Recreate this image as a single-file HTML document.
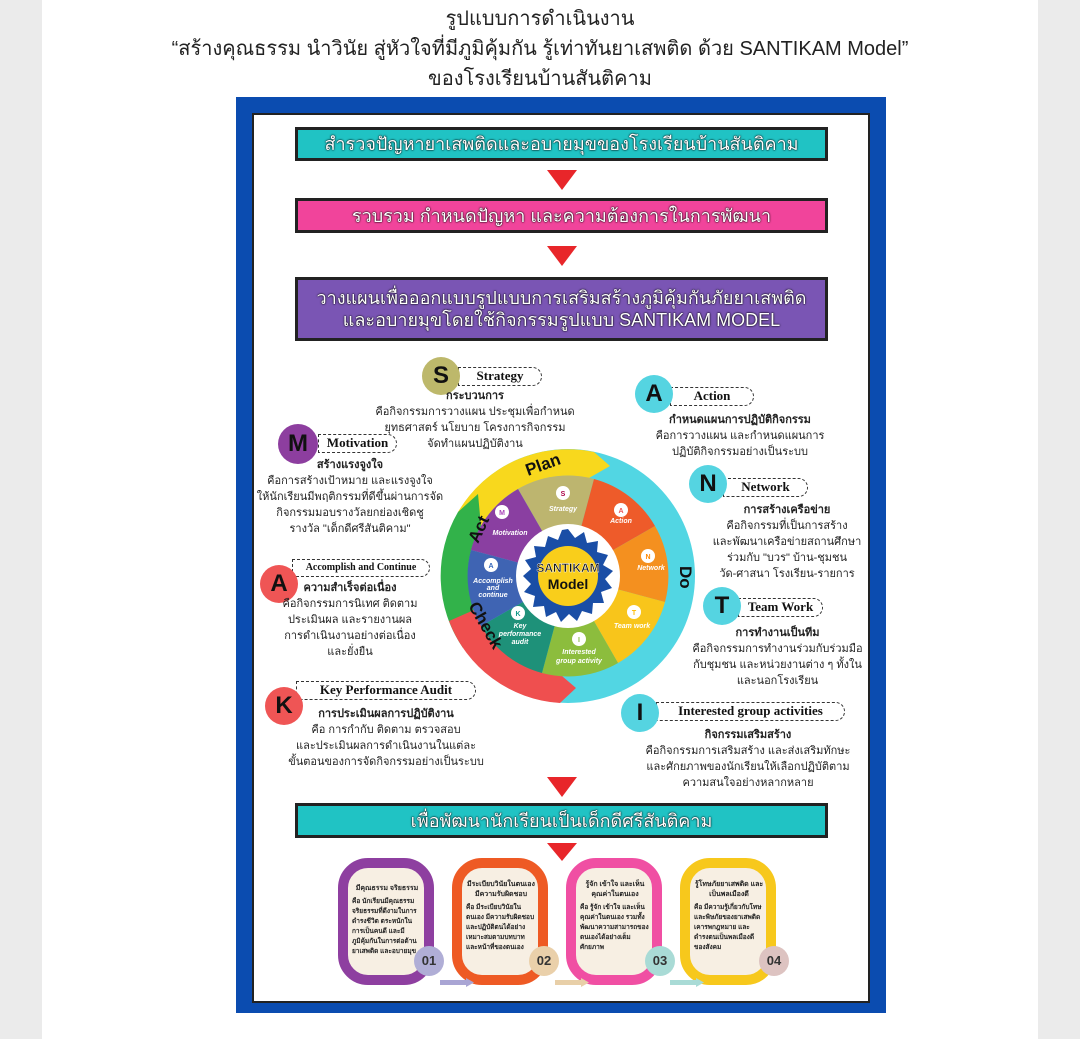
<!DOCTYPE html>
<html><head><meta charset="utf-8">
<style>
*{margin:0;padding:0;box-sizing:border-box}
body{width:1080px;height:1039px;background:#ebebeb;position:relative;overflow:hidden;font-family:"Liberation Sans","Noto Sans CJK SC",sans-serif;color:#111}
.page{position:absolute;left:42px;top:0;width:996px;height:1039px;background:#fff}
.t{position:absolute;left:0;width:1080px;text-align:center;font-size:20px;line-height:24px;color:#222}
.poster{position:absolute;left:236px;top:97px;width:650px;height:916px;background:#0b4cb0}
.inner{position:absolute;left:252px;top:113px;width:618px;height:890px;background:#fff;border:2px solid #222}
.bar{position:absolute;left:295px;width:533px;border:3px solid #222;color:#fff;font-size:18px;text-align:center;text-shadow:0 0 2px #000,0 0 1px #000;display:flex;align-items:center;justify-content:center;line-height:22px}
.chev{position:absolute;width:0;height:0;border-left:15px solid transparent;border-right:15px solid transparent;border-top:20px solid #e8262a}
.ab{position:absolute;font-size:11px;text-align:center;line-height:16px;color:#222}
.ab b{display:block;font-size:11px}
.lc{position:absolute;border-radius:50%;font-weight:bold;font-size:24px;text-align:center;color:#111;font-family:"Liberation Sans Narrow","Liberation Sans",sans-serif}
.lb{position:absolute;border:1.5px dashed #333;border-radius:0 10px 10px 0;font-family:"Liberation Serif",serif;font-weight:bold;font-size:13px;text-align:center;line-height:16px;background:#fff}
.card{position:absolute;top:858px;width:96px;height:127px;border:10px solid;border-radius:30px;background:#f7efe3;padding:12px 2px 0 4px;font-size:6.5px;line-height:10px;font-weight:bold;color:#222;overflow:hidden}
.card .h{font-size:7px;text-align:center;margin-bottom:3px}
.num{position:absolute;width:30px;height:30px;border-radius:50%;font-size:13px;font-weight:bold;text-align:center;line-height:30px;color:#333}
.ar{position:absolute;top:978px;height:9px;width:34px}
</style></head><body>
<div class="page"></div>
<div class="t" style="top:7px">รูปแบบการดำเนินงาน</div>
<div class="t" style="top:37px">“สร้างคุณธรรม นำวินัย สู่หัวใจที่มีภูมิคุ้มกัน รู้เท่าทันยาเสพติด ด้วย SANTIKAM Model”</div>
<div class="t" style="top:67px">ของโรงเรียนบ้านสันติคาม</div>
<div class="poster"></div>
<div class="inner"></div>

<div class="bar" style="top:127px;height:34px;background:#20c3c4">สำรวจปัญหายาเสพติดและอบายมุขของโรงเรียนบ้านสันติคาม</div>
<div class="chev" style="left:547px;top:170px"></div>
<div class="bar" style="top:198px;height:35px;background:#f1449b">รวบรวม กำหนดปัญหา และความต้องการในการพัฒนา</div>
<div class="chev" style="left:547px;top:246px"></div>
<div class="bar" style="top:277px;height:64px;background:#7a55b4;line-height:22px">วางแผนเพื่อออกแบบรูปแบบการเสริมสร้างภูมิคุ้มกันภัยยาเสพติด<br>และอบายมุขโดยใช้กิจกรรมรูปแบบ SANTIKAM MODEL</div>

<svg style="position:absolute;left:0;top:0" width="1080" height="1039">
<g transform="translate(568,576)">
<circle r="127" fill="#52d6e3"/>
<path d="M-110 -64 A127 127 0 0 1 26 -124 L42 -110 L21 -98 A100 100 0 0 0 -87 -50 Z" fill="#f8d81d"/>
<path d="M-105 72 A127 127 0 0 1 -110 -64 L-90 -82 L-87 -50 A100 100 0 0 0 -94 34 Z" fill="#32b24a"/>
<path d="M-8 127 A127 127 0 0 1 -119 45 L-94 34 A100 100 0 0 0 -6 100 L8 112 Z" fill="#ef4f4f"/>
<g>
<path d="M0 0 L-50 -87 A100 100 0 0 1 26 -97Z" fill="#bdb56f"/>
<path d="M0 0 L26 -97 A100 100 0 0 1 87 -50Z" fill="#ee5b2a"/>
<path d="M0 0 L87 -50 A100 100 0 0 1 97 26Z" fill="#f4901f"/>
<path d="M0 0 L97 26 A100 100 0 0 1 50 87Z" fill="#f8c51b"/>
<path d="M0 0 L50 87 A100 100 0 0 1 -26 97Z" fill="#8cbd3d"/>
<path d="M0 0 L-26 97 A100 100 0 0 1 -87 50Z" fill="#1e9179"/>
<path d="M0 0 L-87 50 A100 100 0 0 1 -97 -26Z" fill="#3f64b3"/>
<path d="M0 0 L-97 -26 A100 100 0 0 1 -50 -87Z" fill="#8a3fa1"/>
</g>
<circle r="52" fill="#fff"/>
<polygon fill="#1a4ea6" points="0,-47 7,-38 16,-44 19,-33 30,-35 29,-24 40,-21 35,-11 45,-5 37,3 44,12 33,16 36,27 25,27 24,38 14,35 9,45 1,38 -7,46 -12,36 -22,41 -24,30 -35,31 -33,20 -44,16 -37,8 -45,0 -37,-7 -43,-16 -32,-19 -34,-30 -23,-29 -20,-40 -10,-36 -6,-46"/>
<circle r="30" fill="#f9ce1b"/>
<text y="-4" text-anchor="middle" font-family="Liberation Sans" font-weight="bold" font-size="12" fill="#111" stroke="#fff" stroke-width="0.4">SANTIKAM</text>
<text y="13" text-anchor="middle" font-family="Liberation Sans" font-weight="bold" font-size="14" fill="#111">Model</text>
<g font-family="Liberation Sans" font-weight="bold" font-style="italic" font-size="7" fill="#fff" text-anchor="middle">
<circle cx="-5" cy="-83" r="7" fill="#fff"/><text x="-5" y="-80" fill="#a04" font-style="normal">S</text><text x="-5" y="-65">Strategy</text>
<circle cx="53" cy="-66" r="7" fill="#fff"/><text x="53" y="-63" fill="#e55" font-style="normal">A</text><text x="53" y="-53">Action</text>
<circle cx="80" cy="-20" r="7" fill="#fff"/><text x="80" y="-17" fill="#f80" font-style="normal">N</text><text x="83" y="-6">Network</text>
<circle cx="66" cy="36" r="7" fill="#fff"/><text x="66" y="39" fill="#fb0" font-style="normal">T</text><text x="64" y="52">Team work</text>
<circle cx="11" cy="63" r="7" fill="#fff"/><text x="11" y="66" fill="#8b4" font-style="normal">I</text><text x="11" y="78">Interested</text><text x="11" y="87">group activity</text>
<circle cx="-50" cy="37" r="7" fill="#fff"/><text x="-50" y="40" fill="#198" font-style="normal">K</text><text x="-48" y="52">Key</text><text x="-48" y="60">performance</text><text x="-48" y="68">audit</text>
<circle cx="-77" cy="-11" r="7" fill="#fff"/><text x="-77" y="-8" fill="#36b" font-style="normal">A</text><text x="-75" y="7">Accomplish</text><text x="-75" y="14">and</text><text x="-75" y="21">continue</text>
<circle cx="-66" cy="-64" r="7" fill="#fff"/><text x="-66" y="-61" fill="#a4b" font-style="normal">M</text><text x="-58" y="-41">Motivation</text>
</g>
<g font-family="Liberation Sans" font-weight="bold" font-size="17" fill="#111">
<text transform="translate(-40,-100) rotate(-20)">Plan</text>
<text transform="translate(-90,-32) rotate(-65)">Act</text>
<text transform="translate(-100,30) rotate(60)">Check</text>
<text transform="translate(112,-10) rotate(90)">Do</text>
</g>
</g>
</svg>

<div class="lb" style="left:458px;top:367px;width:84px;height:19px">Strategy</div>
<div class="lc" style="left:422px;top:357px;width:38px;height:38px;line-height:38px;background:#bdb86b">S</div>
<div class="ab" style="left:375px;top:388px;width:200px"><b>กระบวนการ</b>คือกิจกรรมการวางแผน ประชุมเพื่อกำหนด<br>ยุทธศาสตร์ นโยบาย โครงการกิจกรรม<br>จัดทำแผนปฏิบัติงาน</div>

<div class="lb" style="left:318px;top:434px;width:79px;height:19px">Motivation</div>
<div class="lc" style="left:278px;top:424px;width:40px;height:40px;line-height:40px;background:#8d3e9f">M</div>
<div class="ab" style="left:255px;top:457px;width:190px"><b>สร้างแรงจูงใจ</b>คือการสร้างเป้าหมาย และแรงจูงใจ<br>ให้นักเรียนมีพฤติกรรมที่ดีขึ้นผ่านการจัด<br>กิจกรรมมอบรางวัลยกย่องเชิดชู<br>รางวัล "เด็กดีศรีสันติคาม"</div>

<div class="lb" style="left:292px;top:559px;width:138px;height:18px;font-size:10px">Accomplish and Continue</div>
<div class="lc" style="left:260px;top:565px;width:38px;height:38px;line-height:38px;background:#ef5555">A</div>
<div class="ab" style="left:270px;top:580px;width:160px"><b>ความสำเร็จต่อเนื่อง</b>คือกิจกรรมการนิเทศ ติดตาม<br>ประเมินผล และรายงานผล<br>การดำเนินงานอย่างต่อเนื่อง<br>และยั่งยืน</div>

<div class="lb" style="left:296px;top:681px;width:180px;height:19px">Key Performance Audit</div>
<div class="lc" style="left:265px;top:687px;width:38px;height:38px;line-height:38px;background:#ef5555">K</div>
<div class="ab" style="left:276px;top:706px;width:220px"><b>การประเมินผลการปฏิบัติงาน</b>คือ การกำกับ ติดตาม ตรวจสอบ<br>และประเมินผลการดำเนินงานในแต่ละ<br>ขั้นตอนของการจัดกิจกรรมอย่างเป็นระบบ</div>

<div class="lb" style="left:670px;top:387px;width:84px;height:19px">Action</div>
<div class="lc" style="left:635px;top:375px;width:38px;height:38px;line-height:38px;background:#55d4e1">A</div>
<div class="ab" style="left:650px;top:412px;width:180px"><b>กำหนดแผนการปฏิบัติกิจกรรม</b>คือการวางแผน และกำหนดแผนการ<br>ปฏิบัติกิจกรรมอย่างเป็นระบบ</div>

<div class="lb" style="left:723px;top:478px;width:85px;height:19px">Network</div>
<div class="lc" style="left:689px;top:465px;width:38px;height:38px;line-height:38px;background:#55d4e1">N</div>
<div class="ab" style="left:707px;top:502px;width:160px"><b>การสร้างเครือข่าย</b>คือกิจกรรมที่เป็นการสร้าง<br>และพัฒนาเครือข่ายสถานศึกษา<br>ร่วมกับ "บวร" บ้าน-ชุมชน<br>วัด-ศาสนา โรงเรียน-รายการ</div>

<div class="lb" style="left:738px;top:598px;width:85px;height:19px">Team Work</div>
<div class="lc" style="left:703px;top:587px;width:38px;height:38px;line-height:38px;background:#55d4e1">T</div>
<div class="ab" style="left:690px;top:625px;width:175px"><b>การทำงานเป็นทีม</b>คือกิจกรรมการทำงานร่วมกับร่วมมือ<br>กับชุมชน และหน่วยงานต่าง ๆ ทั้งใน<br>และนอกโรงเรียน</div>

<div class="lb" style="left:656px;top:702px;width:189px;height:19px">Interested group activities</div>
<div class="lc" style="left:621px;top:694px;width:38px;height:38px;line-height:38px;background:#55d4e1">I</div>
<div class="ab" style="left:638px;top:727px;width:220px"><b>กิจกรรมเสริมสร้าง</b>คือกิจกรรมการเสริมสร้าง และส่งเสริมทักษะ<br>และศักยภาพของนักเรียนให้เลือกปฏิบัติตาม<br>ความสนใจอย่างหลากหลาย</div>

<div class="chev" style="left:547px;top:777px"></div>
<div class="bar" style="top:803px;height:35px;background:#20c3c4">เพื่อพัฒนานักเรียนเป็นเด็กดีศรีสันติคาม</div>
<div class="chev" style="left:547px;top:843px;border-top-width:18px"></div>

<div class="card" style="left:338px;border-color:#8e3fa0;padding-top:16px"><div class="h">มีคุณธรรม จริยธรรม</div>คือ นักเรียนมีคุณธรรม จริยธรรมที่ดีงามในการดำรงชีวิต ตระหนักในการเป็นคนดี และมีภูมิคุ้มกันในการต่อต้านยาเสพติด และอบายมุข</div>
<div class="card" style="left:452px;border-color:#ee5a24"><div class="h">มีระเบียบวินัยในตนเอง มีความรับผิดชอบ</div>คือ มีระเบียบวินัยในตนเอง มีความรับผิดชอบ และปฏิบัติตนได้อย่างเหมาะสมตามบทบาท และหน้าที่ของตนเอง</div>
<div class="card" style="left:566px;border-color:#f04fa3"><div class="h">รู้จัก เข้าใจ และเห็น คุณค่าในตนเอง</div>คือ รู้จัก เข้าใจ และเห็นคุณค่าในตนเอง รวมทั้งพัฒนาความสามารถของตนเองได้อย่างเต็มศักยภาพ</div>
<div class="card" style="left:680px;border-color:#f7c81c"><div class="h">รู้โทษภัยยาเสพติด และเป็นพลเมืองดี</div>คือ มีความรู้เกี่ยวกับโทษ และพิษภัยของยาเสพติด เคารพกฎหมาย และดำรงตนเป็นพลเมืองดีของสังคม</div>
<div class="num" style="left:414px;top:946px;background:#b0aed6">01</div>
<div class="num" style="left:529px;top:946px;background:#ead0aa">02</div>
<div class="num" style="left:645px;top:946px;background:#a9dbd6">03</div>
<div class="num" style="left:759px;top:946px;background:#ddc3c1">04</div>
<svg class="ar" style="left:440px" viewBox="0 0 34 9"><path d="M0 2h26V0l8 4.5-8 4.5V7H0z" fill="#a9a5d4"/></svg>
<svg class="ar" style="left:555px" viewBox="0 0 34 9"><path d="M0 2h26V0l8 4.5-8 4.5V7H0z" fill="#e8cfa8"/></svg>
<svg class="ar" style="left:670px" viewBox="0 0 34 9"><path d="M0 2h26V0l8 4.5-8 4.5V7H0z" fill="#a9dbd6"/></svg>
</body></html>
